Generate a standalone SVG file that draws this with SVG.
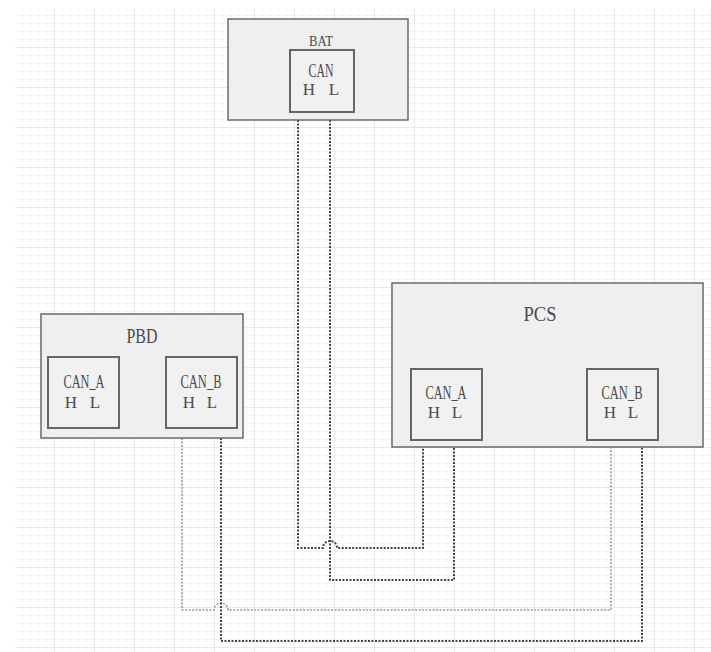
<svg xmlns="http://www.w3.org/2000/svg" width="711" height="652" viewBox="0 0 711 652">
<defs>
<pattern id="minor" width="8" height="8" patternUnits="userSpaceOnUse" x="15" y="8">
<path d="M8 0V8M0 8H8" fill="none" stroke="#ececec" stroke-width="1"/>
</pattern>
<pattern id="major" width="40" height="40" patternUnits="userSpaceOnUse" x="15" y="8">
<path d="M40 0V40M0 40H40" fill="none" stroke="#dedede" stroke-width="1"/>
</pattern>
<style>
.outer{fill:#efefef;stroke:#6a6a6a;stroke-width:1.5}
.inner{fill:#f1f1f1;stroke:#666;stroke-width:2}
text{font-family:"Liberation Serif","DejaVu Serif",serif;fill:#4a4a4a;text-anchor:middle}
.w{fill:none;stroke:#444;stroke-width:2;stroke-dasharray:2 1.5}
.wl{fill:none;stroke:#9a9a9a;stroke-width:1.6;stroke-dasharray:2 1.5}
</style>
</defs>
<rect width="711" height="652" fill="#fff"/>
<rect x="15" y="8" width="696" height="644" fill="url(#minor)"/>
<rect x="15" y="8" width="696" height="644" fill="url(#major)"/>

<g id="connectors">
<path class="w" d="M298 120V548H323A7 7 0 0 1 337 548H423V447"/>
<path class="w" d="M330 120V580H454V447"/>
<path class="wl" d="M182 438V610H214A7 7 0 0 1 228 610H611V447"/>
<path class="w" d="M221 438V641H642V447"/>
</g>

<g id="BAT">
<rect class="outer" x="228" y="19" width="180" height="101"/>
<text x="321" y="46" font-size="15" textLength="24" lengthAdjust="spacingAndGlyphs">BAT</text>
<g id="BAT_CAN">
<rect class="inner" x="290" y="50" width="64" height="62"/>
<text x="321" y="77" font-size="18" textLength="25" lengthAdjust="spacingAndGlyphs">CAN</text>
<text x="309" y="95" font-size="17">H</text>
<text x="334" y="95" font-size="17">L</text>
</g>
</g>

<g id="PBD">
<rect class="outer" x="41" y="314" width="202" height="124"/>
<text x="142" y="343" font-size="20" textLength="31" lengthAdjust="spacingAndGlyphs">PBD</text>
<g id="PBD_CAN_A">
<rect class="inner" x="48" y="357" width="71" height="71"/>
<text x="84" y="388" font-size="18" textLength="41" lengthAdjust="spacingAndGlyphs">CAN_A</text>
<text x="71" y="408" font-size="17">H</text>
<text x="95" y="408" font-size="17">L</text>
</g>
<g id="PBD_CAN_B">
<rect class="inner" x="166" y="357" width="71" height="71"/>
<text x="201" y="388" font-size="18" textLength="41" lengthAdjust="spacingAndGlyphs">CAN_B</text>
<text x="189" y="408" font-size="17">H</text>
<text x="212" y="408" font-size="17">L</text>
</g>
</g>

<g id="PCS">
<rect class="outer" x="392" y="283" width="311" height="164"/>
<text x="540" y="321" font-size="21" textLength="33" lengthAdjust="spacingAndGlyphs">PCS</text>
<g id="PCS_CAN_A">
<rect class="inner" x="411" y="369" width="71" height="71"/>
<text x="446" y="399" font-size="18" textLength="41" lengthAdjust="spacingAndGlyphs">CAN_A</text>
<text x="434" y="418" font-size="17">H</text>
<text x="457" y="418" font-size="17">L</text>
</g>
<g id="PCS_CAN_B">
<rect class="inner" x="587" y="369" width="71" height="71"/>
<text x="622" y="399" font-size="18" textLength="41" lengthAdjust="spacingAndGlyphs">CAN_B</text>
<text x="610" y="418" font-size="17">H</text>
<text x="633" y="418" font-size="17">L</text>
</g>
</g>
</svg>
